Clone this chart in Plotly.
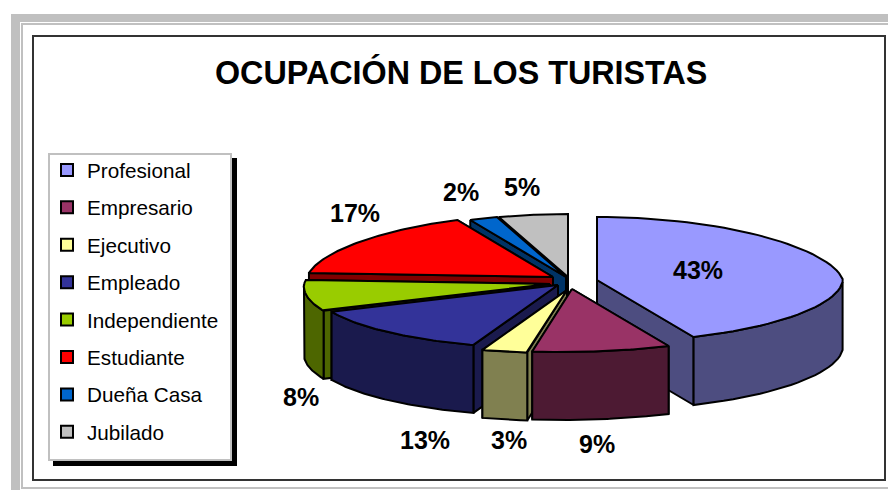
import numpy as np
import plotly.graph_objects as go

categories = ["Profesional", "Empresario", "Ejecutivo", "Empleado",
              "Independiente", "Estudiante", "Dueña Casa", "Jubilado"]
shares = [43, 9, 3, 13, 8, 17, 2, 5]
top_colors = ["#9999FF", "#993366", "#FFFF99", "#333399",
              "#99CC00", "#FF0000", "#0066CC", "#C0C0C0"]
side_colors = ["#4D4D80", "#4D1A33", "#808050", "#1A1A4D",
               "#4D6600", "#800000", "#003366", "#606060"]
title_text = "OCUPACIÓN DE LOS TURISTAS"

# projection of the tilted, exploded pie (page pixels)
CX, CY, RX, RY, DEPTH = 568, 282, 246, 63, 68
BACK_SQUEEZE, FRONT_SHIFT = 0.095, 9
offset_x = [29, 4, -1, -10, -18, -15, -2, 0]
offset_y = [-2, 7, 8, 3, 2, -5, -5, -5]
draw_order = [7, 6, 5, 4, 0, 3, 2, 1]
label_xy = [(698, 270), (597, 444), (509, 440), (425, 440),
            (301, 397), (355, 213), (461, 192), (522, 187)]

fig = go.Figure()


def poly(xs, ys, fill):
    fig.add_trace(go.Scatter(
        x=list(xs) + [xs[0]], y=list(ys) + [ys[0]], mode="lines", fill="toself",
        fillcolor=fill, line=dict(color="black", width=2), showlegend=False,
        hoverinfo="skip"))


edges = np.cumsum([0] + shares) / sum(shares) * 2 * np.pi
for i in draw_order:
    a0, a1 = edges[i], edges[i + 1]
    ax = CX + offset_x[i]
    ay = CY + offset_y[i]
    th = np.linspace(a0, a1, 60)
    c = np.cos(th)
    ex = ax + RX * np.sin(th) * (1 - BACK_SQUEEZE * np.maximum(c, 0)) \
        - FRONT_SHIFT * np.maximum(-c, 0)
    ey = ay - RY * c
    # radial faces, back-most first
    faces = sorted([(ex[0], ey[0]), (ex[-1], ey[-1])], key=lambda p: p[1])
    for px, py in faces:
        poly([ax, px, px, ax], [ay, py, py + DEPTH, ay + DEPTH], side_colors[i])
    # outer wall: only the part of the rim that faces the viewer
    front = c <= 0
    if front.any():
        wx, wy = ex[front], ey[front]
        poly(np.r_[wx, wx[::-1]], np.r_[wy, wy[::-1] + DEPTH], side_colors[i])
    poly(np.r_[ax, ex], np.r_[ay, ey], top_colors[i])

# legend entries
for name, col in zip(categories, top_colors):
    fig.add_trace(go.Scatter(
        x=[None], y=[None], mode="markers", name=name, legendgroup=name,
        marker=dict(symbol="square", size=15, color=col,
                    line=dict(color="black", width=1.5))))

annotations = [
    dict(x=x, y=y, text=f"<b>{v}%</b>", showarrow=False, xref="x", yref="y",
         font=dict(size=25, color="black"))
    for (x, y), v in zip(label_xy, shares)
]
annotations.append(dict(x=460.5, y=72, text=f"<b>{title_text}</b>", showarrow=False,
                        xref="x", yref="y", font=dict(size=32.3, color="black")))


def rect(x0, y0, x1, y1, fill=None, line=None, w=1):
    return dict(type="rect", xref="x", yref="y", x0=x0, y0=y0, x1=x1, y1=y1,
                layer="below", fillcolor=fill or "rgba(0,0,0,0)",
                line=dict(color=line or "rgba(0,0,0,0)", width=w))


shapes = [
    rect(11, 14, 888, 490, fill="#C0C0C0"),
    rect(20, 22, 888, 490, fill="white"),
    rect(22, 24, 900, 488, fill="white", line="#C0C0C0", w=2),
    rect(33, 36, 885, 480, fill="white", line="#333333", w=2),
    rect(53, 158, 237, 466, fill="black"),
    rect(49, 154, 231, 460, fill="white", line="#C0C0C0", w=2),
]

fig.update_layout(
    width=888, height=490, margin=dict(l=0, r=0, t=0, b=0),
    paper_bgcolor="white", plot_bgcolor="rgba(0,0,0,0)",
    xaxis=dict(range=[0, 888], visible=False, fixedrange=True),
    yaxis=dict(range=[490, 0], visible=False, fixedrange=True),
    font=dict(family="Liberation Sans, Arial, sans-serif", color="black"),
    shapes=shapes, annotations=annotations,
    legend=dict(x=47 / 888, y=1 - 150 / 490, xanchor="left", yanchor="top",
                bgcolor="rgba(0,0,0,0)", borderwidth=0,
                font=dict(size=20.7), tracegroupgap=7.5, itemsizing="constant"),
)
fig.write_html("out.html", config=dict(displayModeBar=False),
               post_script="document.body.style.margin='0';")
